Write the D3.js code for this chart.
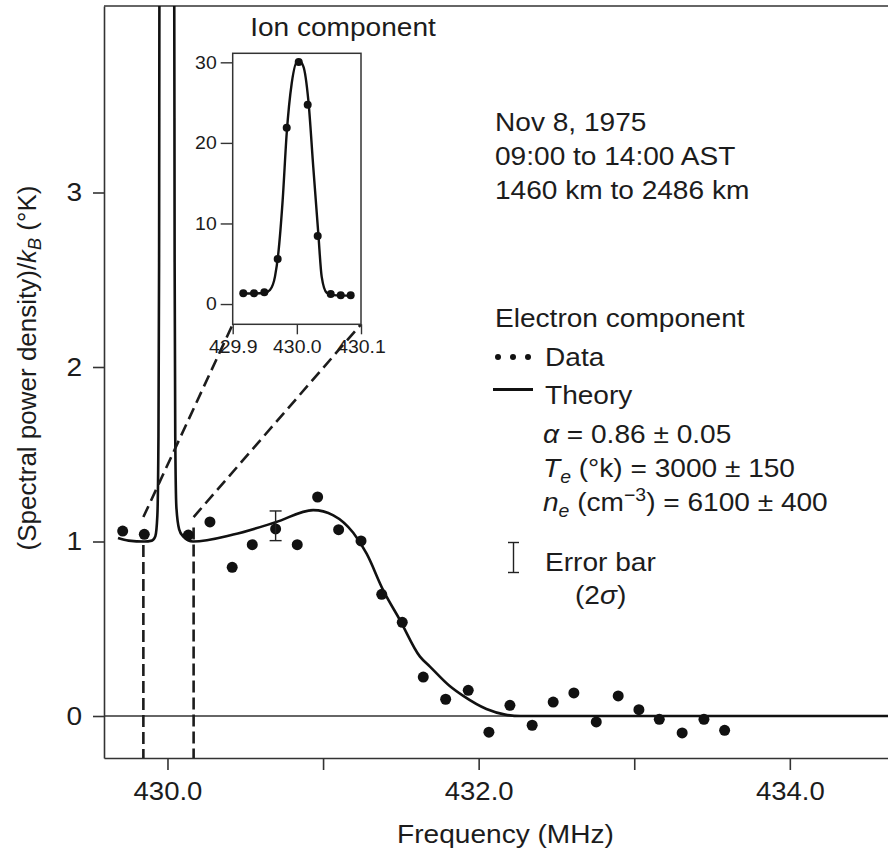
<!DOCTYPE html>
<html><head><meta charset="utf-8">
<script src="https://cdn.jsdelivr.net/npm/d3@7"></script>
<style>
body{margin:0;background:#fff}
svg{display:block}
text{font-family:"Liberation Sans",Arial,Helvetica,sans-serif;fill:#1c1c1c}
</style></head>
<body><svg id="chart" width="888" height="853"></svg>
<script>
// ---------- data ----------
const electronFreq = [429.712,429.851,430.134,430.273,430.416,430.545,430.695,430.834,430.965,431.100,431.244,431.377,431.509,431.644,431.788,431.933,432.066,432.201,432.344,432.479,432.612,432.756,432.897,433.030,433.161,433.308,433.448,433.581];
const electronValue = [1.060,1.041,1.037,1.112,0.852,0.982,1.072,0.982,1.255,1.068,1.003,0.697,0.537,0.223,0.096,0.147,-0.093,0.061,-0.053,0.080,0.132,-0.034,0.115,0.036,-0.019,-0.097,-0.019,-0.082];

const theoryFreq = [429.682,429.75,429.85,429.90,429.922,429.935,429.942,429.946,429.949,430.043,430.046,430.050,430.057,430.075,430.10,430.164,430.423,430.695,430.937,431.066,431.194,431.28,431.387,431.494,431.623,431.687,431.816,431.901,432.05,432.17,432.27,434.631];
const theoryValue = [1.02,1.005,1.0,1.005,1.03,1.15,1.6,2.6,4.4,4.4,2.6,1.6,1.2,1.07,1.03,1.0,1.04,1.11,1.18,1.15,1.05,0.93,0.72,0.55,0.34,0.283,0.17,0.115,0.04,0.008,0.0,0.0];

const ionFreq = [429.9165,429.9332,429.9493,429.9701,429.9842,430.0029,430.0169,430.0325,430.0528,430.0684,430.0839];
const ionValue = [1.33,1.33,1.45,5.59,21.88,30.04,24.74,8.44,1.24,1.08,1.08];

const ionTheoryFreq = [429.9114,429.9348,429.9504,429.9581,429.9659,429.9711,429.9779,429.9842,429.9920,430.0023,430.0101,430.0179,430.0256,430.0334,430.0387,430.0465,430.0568,430.0880];
const ionTheoryValue = [1.3,1.3,1.4,1.74,3.4,6.3,12.9,21.2,27.4,30.3,29.5,25.3,17.0,8.8,3.4,1.4,1.1,1.03];

const errFreq = [430.695];
const errLow = [1.005];
const errHigh = [1.175];

const mainXTicks = [430,431,432,433,434];
const mainXLabels = ["430.0","","432.0","","434.0"];
const mainYTicks = [0,1,2,3];
const insetXTicks = [429.9,430.0,430.1];
const insetXLabels = ["429.9","430.0","430.1"];
const insetYTicks = [0,10,20,30];

const zoomFreq = [429.845,430.168];   // dashed markers around the ion line
const zoomTop = [0.98,1.08];
const zoomDiagStart = [1.14,1.14];

const infoLines = ["Nov 8, 1975","09:00 to 14:00 AST","1460 km to 2486 km"];

// ---------- setup ----------
const SX = 1.08;
const ink = "#1c1c1c";
const svg = d3.select("#chart");
const L = 104, R = 888, TOP = 6, BOT = 758;

const x = d3.scaleLinear().domain([429.592, 434.631]).range([L, R]);
const y = d3.scaleLinear().domain([-0.2407, 4.0688]).range([BOT, TOP]);

const ix = d3.scaleLinear().domain([429.9, 430.1]).range([232.7, 361]);
const iy = d3.scaleLinear().domain([-2.515, 31.12]).range([324.3, 53.3]);

function stretch(sel){
  sel.each(function(){
    const t = d3.select(this);
    const xv = +(t.attr("x")||0);
    t.attr("x", xv/SX).attr("transform", `scale(${SX},1)`);
  });
}
function T(parent, px, py, size, anchor){
  return parent.append("text")
    .attr("transform", `translate(${px},${py}) scale(${SX},1)`)
    .attr("font-size", size)
    .attr("text-anchor", anchor || "start");
}

svg.append("defs").append("clipPath").attr("id","clipMain")
  .append("rect").attr("x",L).attr("y",TOP).attr("width",R-L).attr("height",BOT-TOP);

// ---------- main frame / axes ----------
svg.append("line").attr("x1",L).attr("x2",R).attr("y1",TOP).attr("y2",TOP)
  .attr("stroke","#333").attr("stroke-width",1.6);

const xAxis = svg.append("g").attr("transform",`translate(0,${BOT})`)
  .call(d3.axisBottom(x).tickValues(mainXTicks)
    .tickFormat((d,i)=>mainXLabels[i]).tickSize(12).tickSizeOuter(0).tickPadding(12));
xAxis.selectAll("text").attr("font-size",25.5).attr("fill",ink).call(stretch);
xAxis.selectAll("line,path").attr("stroke","#333").attr("stroke-width",1.6);
xAxis.attr("font-family",null);

const yAxis = svg.append("g").attr("transform",`translate(${L},0)`)
  .call(d3.axisLeft(y).tickValues(mainYTicks).tickFormat(d3.format("d"))
    .tickSize(11).tickSizeOuter(0).tickPadding(11));
yAxis.selectAll("text").attr("font-size",26).attr("fill",ink).call(stretch);
yAxis.selectAll("line,path").attr("stroke","#333").attr("stroke-width",1.6);
yAxis.attr("font-family",null);

// zero line
svg.append("line").attr("x1",x(429.592)).attr("x2",x(434.631)).attr("y1",y(0)).attr("y2",y(0))
  .attr("stroke","#333").attr("stroke-width",1.4);

// axis titles
T(svg, 505.5, 843, 26, "middle").text("Frequency (MHz)");
const yl = svg.append("text").attr("transform","translate(36,368) rotate(-90)")
  .attr("font-size",26).attr("text-anchor","middle");
yl.append("tspan").text("(Spectral power density)/");
yl.append("tspan").attr("font-style","italic").text("k");
yl.append("tspan").attr("font-style","italic").attr("font-size",18).attr("dy",5).text("B");
yl.append("tspan").attr("dy",-5).text(" (°K)");

// ---------- plot content ----------
const plot = svg.append("g").attr("clip-path","url(#clipMain)");

// dashed markers
zoomFreq.forEach((f,i)=>{
  plot.append("line").attr("x1",x(f)).attr("x2",x(f)).attr("y1",y(zoomTop[i])).attr("y2",BOT)
    .attr("stroke",ink).attr("stroke-width",2.6).attr("stroke-dasharray","12,5");
});
const corners = [ix(429.9), ix(430.1)];
zoomFreq.forEach((f,i)=>{
  svg.append("line").attr("x1",x(f)).attr("y1",y(zoomDiagStart[i]))
    .attr("x2",corners[i]).attr("y2",iy(-2.515))
    .attr("stroke",ink).attr("stroke-width",2.6).attr("stroke-dasharray","12,6");
});

// theory curve
const theory = theoryFreq.map((f,i)=>[f,theoryValue[i]]);
plot.append("path").datum(theory)
  .attr("d", d3.line().x(d=>x(d[0])).y(d=>y(d[1])).curve(d3.curveMonotoneX))
  .attr("fill","none").attr("stroke","#111").attr("stroke-width",2.6);

// data points
plot.selectAll("circle.e").data(electronFreq).join("circle").attr("class","e")
  .attr("cx",d=>x(d)).attr("cy",(d,i)=>y(electronValue[i])).attr("r",5.5).attr("fill","#111");

// error bar
errFreq.forEach((f,i)=>{
  const g = plot.append("g").attr("stroke","#222").attr("stroke-width",1.4);
  g.append("line").attr("x1",x(f)).attr("x2",x(f)).attr("y1",y(errLow[i])).attr("y2",y(errHigh[i]));
  g.append("line").attr("x1",x(f)-6).attr("x2",x(f)+6).attr("y1",y(errLow[i])).attr("y2",y(errLow[i]));
  g.append("line").attr("x1",x(f)-6).attr("x2",x(f)+6).attr("y1",y(errHigh[i])).attr("y2",y(errHigh[i]));
});

// ---------- inset ----------
const inset = svg.append("g");
inset.append("rect").attr("x",ix(429.9)).attr("y",iy(31.12))
  .attr("width",ix(430.1)-ix(429.9)).attr("height",iy(-2.515)-iy(31.12))
  .attr("fill","#fff").attr("stroke","#333").attr("stroke-width",1.5);

const iyAxis = inset.append("g").attr("transform",`translate(${ix(429.9)},0)`)
  .call(d3.axisLeft(iy).tickValues(insetYTicks).tickFormat(d3.format("d")).tickSize(12).tickSizeOuter(0).tickPadding(4));
iyAxis.select(".domain").remove();
iyAxis.selectAll("line").attr("stroke","#333").attr("stroke-width",1.4);
iyAxis.selectAll("text").attr("font-size",18).attr("fill",ink).call(stretch);
iyAxis.attr("font-family",null);

const ixAxis = inset.append("g").attr("transform",`translate(0,${iy(-2.515)})`)
  .call(d3.axisBottom(ix).tickValues(insetXTicks).tickFormat((d,i)=>insetXLabels[i]).tickSize(10).tickSizeOuter(0).tickPadding(6));
ixAxis.select(".domain").remove();
ixAxis.selectAll("line").attr("stroke","#333").attr("stroke-width",1.4);
ixAxis.selectAll("text").attr("font-size",18).attr("fill",ink).call(stretch);
ixAxis.attr("font-family",null);

const ionTheory = ionTheoryFreq.map((f,i)=>[f,ionTheoryValue[i]]);
inset.append("path").datum(ionTheory)
  .attr("d", d3.line().x(d=>ix(d[0])).y(d=>iy(d[1])).curve(d3.curveMonotoneX))
  .attr("fill","none").attr("stroke","#111").attr("stroke-width",2.4);
inset.selectAll("circle.i").data(ionFreq).join("circle").attr("class","i")
  .attr("cx",d=>ix(d)).attr("cy",(d,i)=>iy(ionValue[i])).attr("r",4).attr("fill","#111");

T(svg, 343, 36, 26, "middle").text("Ion component");

// ---------- annotations ----------
infoLines.forEach((s,i)=> T(svg, 495, 131 + i*34, 26).text(s));

T(svg, 495, 327, 26).text("Electron component");
[498,513,528].forEach(cx=> svg.append("circle").attr("cx",cx).attr("cy",357).attr("r",3).attr("fill","#111"));
T(svg, 545, 366, 26).text("Data");
svg.append("line").attr("x1",493).attr("x2",533).attr("y1",389.5).attr("y2",389.5).attr("stroke","#111").attr("stroke-width",3);
T(svg, 545, 404, 26).text("Theory");

const a = T(svg, 543, 443, 26);
a.append("tspan").attr("font-style","italic").text("α");
a.append("tspan").text(" = 0.86 ± 0.05");

const te = T(svg, 543, 477, 26);
te.append("tspan").attr("font-style","italic").text("T");
te.append("tspan").attr("font-style","italic").attr("font-size",18).attr("dy",6).text("e");
te.append("tspan").attr("dy",-6).text(" (°k) = 3000 ± 150");

const ne = T(svg, 543, 511, 26);
ne.append("tspan").attr("font-style","italic").text("n");
ne.append("tspan").attr("font-style","italic").attr("font-size",18).attr("dy",6).text("e");
ne.append("tspan").attr("dy",-6).text(" (cm");
ne.append("tspan").attr("font-size",18).attr("dy",-10).text("−3");
ne.append("tspan").attr("dy",10).text(") = 6100 ± 400");

// legend error bar
const eg = svg.append("g").attr("stroke","#222").attr("stroke-width",1.4);
eg.append("line").attr("x1",513.5).attr("x2",513.5).attr("y1",542.5).attr("y2",572.5);
eg.append("line").attr("x1",508).attr("x2",519).attr("y1",542.5).attr("y2",542.5);
eg.append("line").attr("x1",508).attr("x2",519).attr("y1",572.5).attr("y2",572.5);
T(svg, 545, 571, 26).text("Error bar");
const s2 = T(svg, 575, 604, 26);
s2.append("tspan").text("(2");
s2.append("tspan").attr("font-style","italic").text("σ");
s2.append("tspan").text(")");
</script>
</body></html>
